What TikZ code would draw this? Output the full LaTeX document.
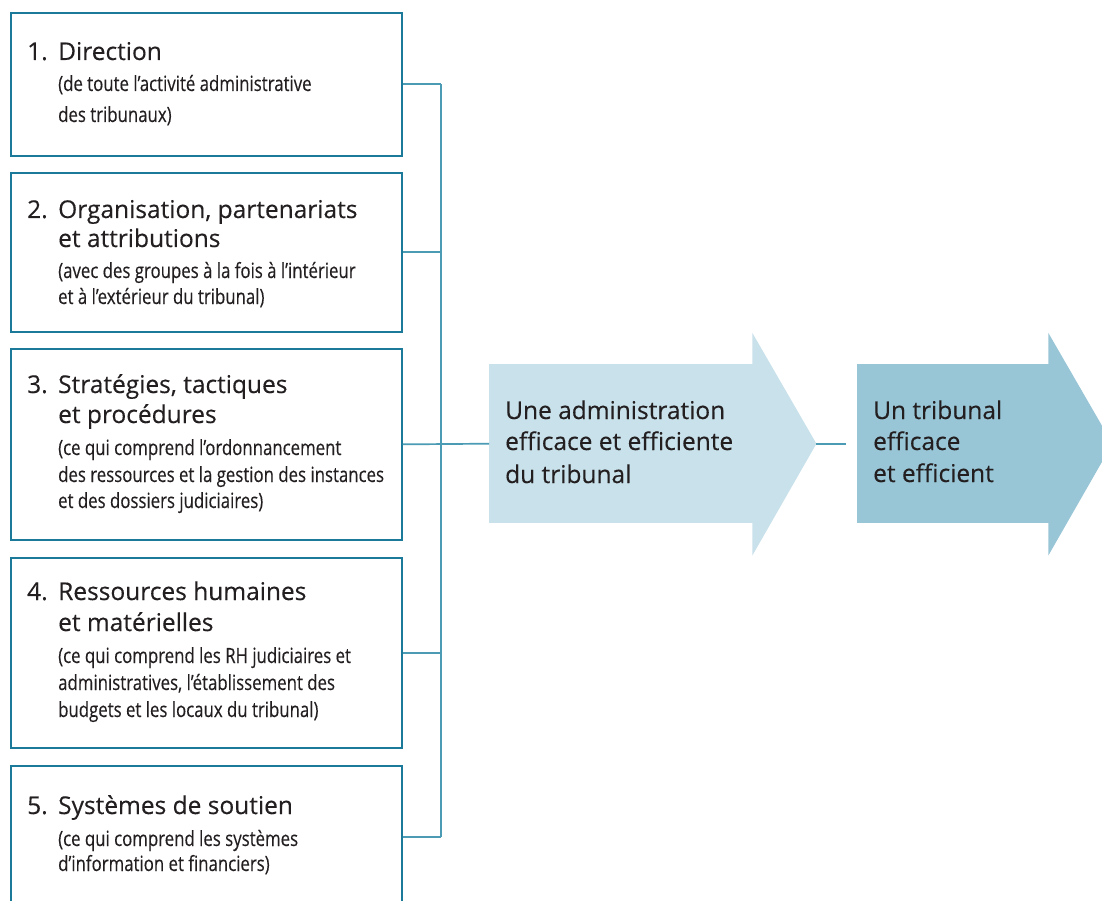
\documentclass[tikz,border=0pt]{standalone}
\usepackage{fontspec}
\setmainfont{Open Sans}
\newfontfamily\headfont[FakeBold=0.3]{Open Sans}
\newfontfamily\subfont[FakeStretch=0.8,FakeBold=0.3]{Open Sans}
\definecolor{boxline}{HTML}{1B7A99}
\definecolor{connc}{HTML}{4A9BB3}
\definecolor{arrowA}{HTML}{C8E1EA}
\definecolor{arrowB}{HTML}{99C6D6}
\definecolor{ink}{HTML}{231F20}
\newcommand\txtline[4]{\node[#1] (#2) at (#3) {#4};}
\begin{document}
\begin{tikzpicture}[x=1pt,y=-1pt,
  box/.style={draw=boxline,line width=1.7pt,inner sep=0pt,anchor=north west,minimum width=391pt},
  body/.style={inner sep=0pt,anchor=north west,minimum height=159pt},
  head/.style={font=\headfont\fontsize{24.5}{24.5}\selectfont,text=ink,anchor=base west,inner sep=0pt},
  sub/.style={font=\subfont\fontsize{21}{21}\selectfont,text=ink,anchor=base west,inner sep=0pt},
  conn/.style={draw=connc,line width=1.7pt}]
\useasboundingbox (0,0) rectangle (1102,901);
\clip (0,0) rectangle (1102,901);
% boxes
\node[box,minimum height=143pt] (b1) at (10,12) {};
\node[box,minimum height=159pt] (b2) at (10,172) {};
\node[box,minimum height=191pt] (b3) at (10,348) {};
\node[box,minimum height=190pt] (b4) at (10,557) {};
\node[box,minimum height=142pt] (b5) at (10,765) {};
% arrows
\node[body,fill=arrowA,minimum width=264pt] (a1) at (489,364) {};
\fill[arrowA] ([xshift=-1pt,yshift=31pt]a1.north east) -- ([xshift=63pt]a1.east) coordinate (t1)
  -- ([xshift=-1pt,yshift=-32pt]a1.south east) -- cycle;
\node[body,fill=arrowB,minimum width=192pt] (a2) at (857,364) {};
\fill[arrowB] ([xshift=-1pt,yshift=31pt]a2.north east) -- ([xshift=63pt]a2.east) coordinate (t2)
  -- ([xshift=-1pt,yshift=-32pt]a2.south east) -- cycle;
% connectors
\coordinate (busx) at (441,0);
\draw[conn] (b1.east) -- (b1.east -| busx);
\draw[conn] (b2.east) -- (b2.east -| busx);
\draw[conn] (b3.east) -- (a1.west);
\draw[conn] (b4.east) -- (b4.east -| busx);
\draw[conn] (b5.east) -- (b5.east -| busx);
\draw[conn] (b1.east -| busx) -- (b5.east -| busx);
\draw[conn] (t1) -- ([xshift=-11pt]a2.west);
% box 1
\txtline{head}{n1}{27,60}{1.}
\txtline{head}{h1a}{58,60}{Direction}
\txtline{sub}{s1a}{58,91}{(de toute l’activité administrative}
\txtline{sub}{s1b}{58,122}{des tribunaux)}
% box 2
\txtline{head}{n2}{27,218}{2.}
\txtline{head}{h2a}{58,218}{Organisation, partenariats}
\txtline{head}{h2b}{58,247}{et attributions}
\txtline{sub}{s2a}{58,278}{(avec des groupes à la fois à l’intérieur}
\txtline{sub}{s2b}{58,304}{et à l’extérieur du tribunal)}
% box 3
\txtline{head}{n3}{27,393}{3.}
\txtline{head}{h3a}{58,393}{Stratégies, tactiques}
\txtline{head}{h3b}{58,423}{et procédures}
\txtline{sub}{s3a}{58,455}{(ce qui comprend l’ordonnancement}
\txtline{sub}{s3b}{58,482}{des ressources et la gestion des instances}
\txtline{sub}{s3c}{58,508}{et des dossiers judiciaires)}
% box 4
\txtline{head}{n4}{27,600}{4.}
\txtline{head}{h4a}{58,600}{Ressources humaines}
\txtline{head}{h4b}{58,631}{et matérielles}
\txtline{sub}{s4a}{58,663}{(ce qui comprend les RH judiciaires et}
\txtline{sub}{s4b}{58,690}{administratives, l’établissement des}
\txtline{sub}{s4c}{58,717}{budgets et les locaux du tribunal)}
% box 5
\txtline{head}{n5}{27,814}{5.}
\txtline{head}{h5a}{58,814}{Systèmes de soutien}
\txtline{sub}{s5a}{58,846}{(ce qui comprend les systèmes}
\txtline{sub}{s5b}{58,871}{d’information et financiers)}
% arrow texts
\txtline{head}{a1l1}{505,419}{Une administration}
\txtline{head}{a1l2}{505,450}{efficace et efficiente}
\txtline{head}{a1l3}{505,483}{du tribunal}
\txtline{head}{a2l1}{873,419}{Un tribunal}
\txtline{head}{a2l2}{873,450}{efficace}
\txtline{head}{a2l3}{873,482}{et efficient}
\end{tikzpicture}
\end{document}
